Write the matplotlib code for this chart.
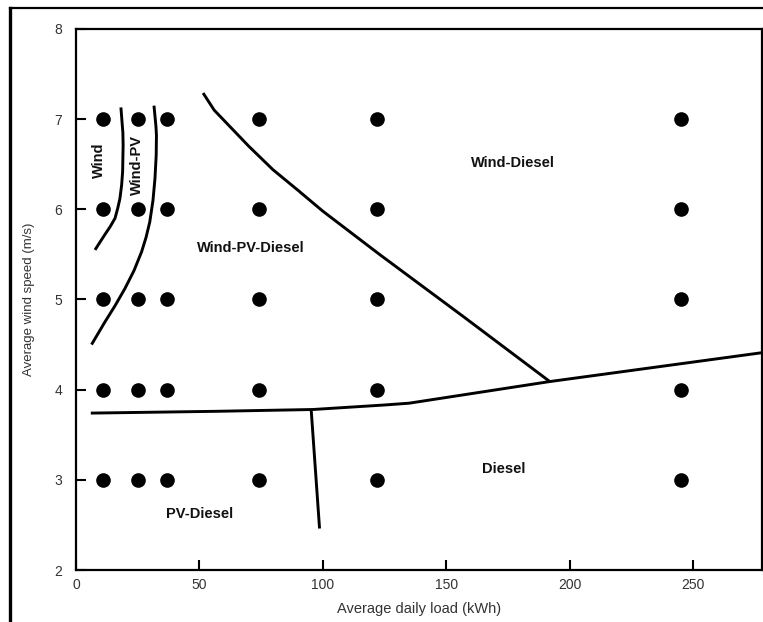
import matplotlib
matplotlib.use("Agg")
import matplotlib.pyplot as plt
from matplotlib.lines import Line2D
import numpy as np

plt.rcParams['font.family'] = ['Liberation Sans', 'DejaVu Sans']

# simulated cases: daily load (kWh) x wind speed (m/s)
loads = [11, 25, 37, 74, 122, 245]
speeds = [3, 4, 5, 6, 7]

# region boundaries
wind_x = [18.2, 19.0, 19.1, 18.9, 18.5, 17.8, 16.9, 15.8, 13.9, 11.7, 7.7]
wind_y = [7.13, 6.85, 6.71, 6.42, 6.27, 6.12, 6.01, 5.90, 5.81, 5.72, 5.55]

windpv_x = [31.6, 32.4, 32.6, 32.5, 32.0, 31.2, 29.9, 28.4, 26.6, 23.5, 19.8, 15.8, 11.7, 6.3]
windpv_y = [7.15, 6.92, 6.82, 6.60, 6.34, 6.10, 5.86, 5.69, 5.53, 5.32, 5.12, 4.93, 4.75, 4.50]

diag_x = [51.5, 56.0, 62.3, 70.0, 79.8, 90.0, 100.0, 123.0, 157.0, 192.0]
diag_y = [7.29, 7.10, 6.92, 6.70, 6.44, 6.21, 5.98, 5.50, 4.81, 4.09]

low_x = [6, 57, 96, 125, 135, 192, 278]
low_y = [3.74, 3.76, 3.78, 3.83, 3.85, 4.09, 4.41]

vert_x = [95.3, 98.7]
vert_y = [3.78, 2.46]

regions = ["Wind", "Wind-PV", "Wind-PV-Diesel", "Wind-Diesel", "PV-Diesel", "Diesel"]
region_x = [9.3, 24.9, 71.0, 177.0, 50.0, 173.5]
region_y = [6.54, 6.49, 5.57, 6.51, 2.62, 3.12]
region_rot = [90, 90, 0, 0, 0, 0]

fig = plt.figure(figsize=(7.63, 6.22), dpi=100)
ax = fig.add_axes([0.0996, 0.0836, 0.8991, 0.8698])

X, Y = np.meshgrid(loads, speeds)
ax.plot(X.ravel(), Y.ravel(), 'o', color='black', markersize=9.5, zorder=3)

for xs, ys in [(wind_x, wind_y), (windpv_x, windpv_y), (diag_x, diag_y),
               (low_x, low_y), (vert_x, vert_y)]:
    ax.plot(xs, ys, color='black', lw=2.1, solid_capstyle='butt',
            solid_joinstyle='round')

for name, x, y, r in zip(regions, region_x, region_y, region_rot):
    ax.text(x, y, name, rotation=r, ha='center', va='center',
            fontsize=10.5, fontweight='bold', color='#111111')

ax.set_xlim(0, 278)
ax.set_ylim(2, 8)
ax.set_xticks([0, 50, 100, 150, 200, 250])
ax.set_yticks([2, 3, 4, 5, 6, 7, 8])
ax.tick_params(direction='in', length=7, width=1.5, labelsize=10,
               labelcolor='#333333')
ax.tick_params(axis='y', pad=10)
ax.tick_params(axis='x', pad=6)
for s in ax.spines.values():
    s.set_linewidth(1.6)

ax.set_xlabel("Average daily load (kWh)", fontsize=10.5, color='#333333', labelpad=7)
ax.set_ylabel("Average wind speed (m/s)", fontsize=9.5, color='#333333', labelpad=14)

# outer frame around the figure
fx = 10 / 763
fy = 1 - 8 / 622
fig.add_artist(Line2D([fx, fx], [0, fy], color='black', lw=2.4))
fig.add_artist(Line2D([fx, 1], [fy, fy], color='black', lw=1.6))

fig.savefig("out.png", dpi=100)
